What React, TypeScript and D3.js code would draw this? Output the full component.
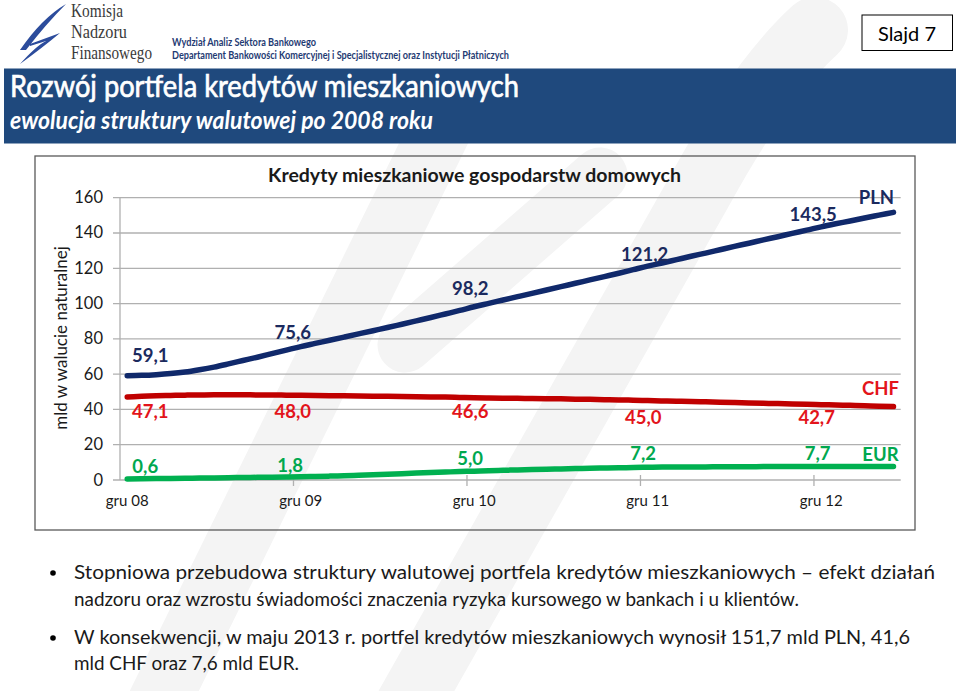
import React from "react";
import * as d3 from "d3";

// ---------- DATA ----------
const months: string[] = [
  "gru 08",
  "sty 09", "lut 09", "mar 09", "kwi 09", "maj 09", "cze 09", "lip 09", "sie 09", "wrz 09", "paź 09", "lis 09", "gru 09",
  "sty 10", "lut 10", "mar 10", "kwi 10", "maj 10", "cze 10", "lip 10", "sie 10", "wrz 10", "paź 10", "lis 10", "gru 10",
  "sty 11", "lut 11", "mar 11", "kwi 11", "maj 11", "cze 11", "lip 11", "sie 11", "wrz 11", "paź 11", "lis 11", "gru 11",
  "sty 12", "lut 12", "mar 12", "kwi 12", "maj 12", "cze 12", "lip 12", "sie 12", "wrz 12", "paź 12", "lis 12", "gru 12",
  "sty 13", "lut 13", "mar 13", "kwi 13", "maj 13",
];

const plnValues: number[] = [
  59.1,
  59.3, 59.7, 60.3, 61.2, 62.5, 64.0, 65.8, 67.7, 69.6, 71.6, 73.6, 75.6,
  77.4, 79.2, 81.0, 82.8, 84.6, 86.4, 88.3, 90.2, 92.1, 94.1, 96.1, 98.2,
  100.1, 102.0, 103.9, 105.8, 107.7, 109.6, 111.5, 113.4, 115.3, 117.2, 119.2, 121.2,
  123.0, 124.9, 126.8, 128.6, 130.5, 132.4, 134.2, 136.1, 137.9, 139.8, 141.6, 143.5,
  145.2, 146.8, 148.5, 150.1, 151.7,
];

const chfValues: number[] = [
  47.1,
  47.4, 47.7, 47.9, 48.1, 48.2, 48.3, 48.3, 48.3, 48.2, 48.2, 48.1, 48.0,
  47.9, 47.8, 47.7, 47.6, 47.5, 47.4, 47.3, 47.2, 47.1, 47.0, 46.8, 46.6,
  46.5, 46.4, 46.3, 46.2, 46.1, 46.0, 45.8, 45.7, 45.5, 45.4, 45.2, 45.0,
  44.8, 44.6, 44.5, 44.3, 44.1, 43.9, 43.7, 43.5, 43.3, 43.1, 42.9, 42.7,
  42.5, 42.3, 42.1, 41.8, 41.6,
];

const eurValues: number[] = [
  0.6,
  0.7, 0.8, 0.9, 1.0, 1.1, 1.2, 1.3, 1.4, 1.5, 1.6, 1.7, 1.8,
  2.0, 2.2, 2.4, 2.7, 3.0, 3.3, 3.6, 3.9, 4.2, 4.5, 4.8, 5.0,
  5.3, 5.5, 5.7, 5.9, 6.1, 6.3, 6.5, 6.7, 6.8, 6.9, 7.1, 7.2,
  7.3, 7.3, 7.4, 7.4, 7.5, 7.5, 7.5, 7.6, 7.6, 7.6, 7.7, 7.7,
  7.7, 7.7, 7.6, 7.6, 7.6,
];

const seriesNames: string[] = ["PLN", "CHF", "EUR"];
const tickLabels: string[] = ["gru 08", "gru 09", "gru 10", "gru 11", "gru 12"];
const yTicks: number[] = [0, 20, 40, 60, 80, 100, 120, 140, 160];

const chartTitle = "Kredyty mieszkaniowe gospodarstw domowych";
const yAxisTitle = "mld w walucie naturalnej";
const slideTitle = "Rozwój portfela kredytów mieszkaniowych";
const slideSubtitle = "ewolucja struktury walutowej po 2008 roku";
const bulletLines: string[] = [
  "Stopniowa przebudowa struktury walutowej portfela kredytów mieszkaniowych – efekt działań",
  "nadzoru oraz wzrostu świadomości znaczenia ryzyka kursowego w bankach i u klientów.",
  "W konsekwencji, w maju 2013 r. portfel kredytów mieszkaniowych wynosił 151,7 mld PLN, 41,6",
  "mld CHF oraz 7,6 mld EUR.",
];

// ---------- LAYOUT ----------
const W = 960;
const H = 691;
const plot = { left: 120, right: 900.7, top: 197.7, bottom: 480 };
const lineColors = ["#10296b", "#c00000", "#00b050"];
const labelColors = ["#1b2a5e", "#e3141b", "#00a84f"];
// per-label offsets (dx, dy) for the December data labels, per series
const labelOffsets: [number, number][][] = [
  [[23, -13.5], [-8, -7.5], [-4, -11.5], [-3, -5], [-8, -5.5]],
  [[23, 21.5], [-8, 22.7], [-4, 20.5], [-4.5, 23.4], [-4.5, 19.5]],
  [[18, -6], [-10.5, -4.8], [-4, -6], [-4.5, -7.3], [-3.5, -6.4]],
];
const nameOffsets: [number, number][] = [[-17, -8.5], [-13, -11.5], [-13, -6]];
const bulletRight: number[] = [935, 799, 910, 299];
const bulletBase: number[] = [579, 606, 644, 670];

export default function App() {
  const series = [plnValues, chfValues, eurValues];

  const x = d3
    .scaleBand<number>()
    .domain(d3.range(months.length))
    .range([plot.left, plot.right])
    .paddingInner(0)
    .paddingOuter(0);
  const cx = (i: number) => (x(i) as number) + x.bandwidth() / 2;
  const y = d3.scaleLinear().domain([0, 160]).range([plot.bottom, plot.top]);

  const line = d3
    .line<number>()
    .x((_, i) => cx(i))
    .y((d) => y(d))
    .curve(d3.curveMonotoneX);

  const tickIdx = tickLabels.map((t) => months.indexOf(t));
  const fmt = (v: number) => v.toFixed(1).replace(".", ",");
  const font = "Lato, 'Open Sans', sans-serif";

  return (
    <svg
      width={W}
      height={H}
      viewBox={`0 0 ${W} ${H}`}
      style={{ position: "absolute", left: 0, top: 0, background: "#fff" }}
      fontFamily={font}
    >
      {/* watermark */}
      <g fill="none" stroke="#f4f4f4" strokeLinecap="round">
        <path d="M150,720 L445,120" strokeWidth={62} />
        <path d="M405,345 L600,175" strokeWidth={55} />
        <path d="M400,720 L700,190 Q760,80 815,30" strokeWidth={66} />
      </g>

      {/* header: logo */}
      <g>
        <path d="M66,4 Q42,18 20,50 L26,50 Q46,24 66,4 Z" fill="#2c4c9c" />
        <path d="M30,44 L60,33 Q42,48 20,64 Q36,46 46,41 L30,46 Z" fill="#2c4c9c" />
        <g fontFamily="'Liberation Serif', 'DejaVu Serif', serif" fill="#3a3a3a" fontSize={19}>
          <text x={71} y={17} textLength={52} lengthAdjust="spacingAndGlyphs">Komisja</text>
          <text x={71} y={38} textLength={56} lengthAdjust="spacingAndGlyphs">Nadzoru</text>
          <text x={71} y={59} textLength={81} lengthAdjust="spacingAndGlyphs">Finansowego</text>
        </g>
        <g fill="#1f3b73" fontWeight="bold" fontSize={11.5}>
          <text x={172} y={46} textLength={144} lengthAdjust="spacingAndGlyphs">Wydział Analiz Sektora Bankowego</text>
          <text x={172} y={59} textLength={337} lengthAdjust="spacingAndGlyphs">
            Departament Bankowości Komercyjnej i Specjalistycznej oraz Instytucji Płatniczych
          </text>
        </g>
        <rect x={862} y={15} width={90.5} height={35.5} fill="#fff" stroke="#000" strokeWidth={1} />
        <text x={907} y={40.5} textAnchor="middle" fontSize={20} fill="#000">Slajd 7</text>
      </g>

      {/* banner */}
      <rect x={4} y={68.5} width={952} height={75} fill="#1f497d" />
      <text x={10} y={97} fill="#fff" stroke="#fff" strokeWidth={0.7} fontSize={31} textLength={509} lengthAdjust="spacingAndGlyphs">{slideTitle}</text>
      <text x={10} y={129} fill="#fff" fontSize={25} fontStyle="italic" fontWeight="bold" textLength={423} lengthAdjust="spacingAndGlyphs">
        {slideSubtitle}
      </text>

      {/* chart frame */}
      <rect x={35} y={156} width={880} height={374} fill="none" stroke="#595959" strokeWidth={1.3} />
      <text x={474.5} y={182} textAnchor="middle" fontWeight="bold" fontSize={19.5} fill="#1a1a1a">{chartTitle}</text>

      {/* grid */}
      <g stroke="#b0b0b0" strokeWidth={1.3}>
        {yTicks.map((t) => (
          <line key={t} x1={plot.left - 7} x2={plot.right} y1={y(t)} y2={y(t)} />
        ))}
        <line x1={plot.left} x2={plot.left} y1={plot.top} y2={plot.bottom} />
        {tickIdx.slice(1).map((i) => (
          <line key={i} x1={x(i) as number} x2={x(i) as number} y1={plot.bottom - 5} y2={plot.bottom + 6} />
        ))}
      </g>
      <g fontSize={16.5} fill="#1a1a1a" textAnchor="end">
        {yTicks.map((t) => (
          <text key={t} x={103} y={y(t) + 5.5}>{t}</text>
        ))}
      </g>
      <g fontSize={15} fill="#1a1a1a" textAnchor="middle">
        {tickIdx.map((i, k) => (
          <text key={i} x={cx(i)} y={506}>{tickLabels[k]}</text>
        ))}
      </g>
      <text
        transform={`translate(67,338) rotate(-90)`}
        textAnchor="middle"
        fontSize={17}
        fill="#1a1a1a"
      >
        {yAxisTitle}
      </text>

      {/* lines */}
      {series.map((vals, s) => (
        <path
          key={seriesNames[s]}
          d={line(vals) as string}
          fill="none"
          stroke={lineColors[s]}
          strokeWidth={5.5}
          strokeLinecap="round"
          strokeLinejoin="round"
        />
      ))}

      {/* data labels */}
      <g fontWeight="bold" fontSize={18.5} textAnchor="middle">
        {series.map((vals, s) =>
          tickIdx.map((i, k) => (
            <text
              key={`${s}-${i}`}
              x={cx(i) + labelOffsets[s][k][0]}
              y={y(vals[i]) + labelOffsets[s][k][1]}
              fill={labelColors[s]}
            >
              {fmt(vals[i])}
            </text>
          ))
        )}
        {series.map((vals, s) => {
          const last = vals.length - 1;
          return (
            <text
              key={`name-${s}`}
              x={cx(last) + nameOffsets[s][0]}
              y={y(vals[last]) + nameOffsets[s][1]}
              fill={labelColors[s]}
            >
              {seriesNames[s]}
            </text>
          );
        })}
      </g>

      {/* bullets */}
      <g fontSize={18.5} fill="#1a1a1a">
        <circle cx={53} cy={573} r={2.8} fill="#000" />
        <circle cx={53} cy={638} r={2.8} fill="#000" />
        {bulletLines.map((t, k) => (
          <text key={k} x={74} y={bulletBase[k]} textLength={bulletRight[k] - 74} lengthAdjust="spacingAndGlyphs">
            {t}
          </text>
        ))}
      </g>
    </svg>
  );
}
